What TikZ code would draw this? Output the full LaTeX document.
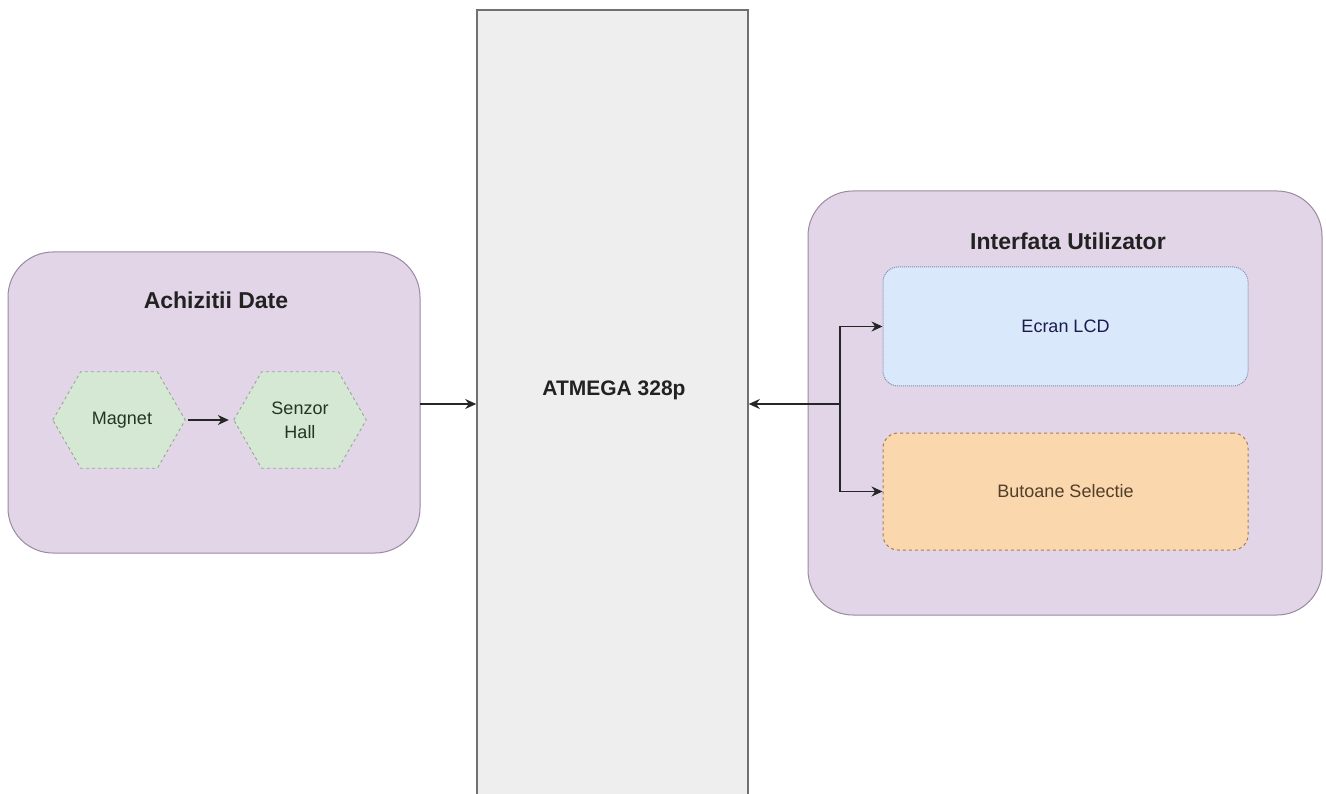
\documentclass[tikz,border=0pt]{standalone}
\usepackage{fontspec}
\setmainfont{Liberation Sans}
\usetikzlibrary{arrows.meta,calc}
\definecolor{grpfill}{HTML}{E2D5E7}
\definecolor{grpdraw}{HTML}{9A8AA0}
\definecolor{hexfill}{HTML}{D5E8D4}
\definecolor{hexdraw}{HTML}{98A896}
\definecolor{lcdfill}{HTML}{DAE8FC}
\definecolor{lcddraw}{HTML}{7F8EAD}
\definecolor{btnfill}{HTML}{FAD7AC}
\definecolor{btndraw}{HTML}{A97C52}
\definecolor{mcufill}{HTML}{EEEEEE}
\definecolor{mcudraw}{HTML}{707070}
\definecolor{txt}{HTML}{222222}
\tikzset{
  x=1pt,y=-1pt,
  grp/.style={draw=grpdraw,fill=grpfill,line width=1pt,rounded corners=45pt},
  grptitle/.style={font=\fontsize{23}{26}\selectfont\bfseries,text=txt},
  hexnode/.style={minimum width=132pt,minimum height=96pt,inner sep=0pt,align=center,
    font=\fontsize{18}{24}\selectfont,text=txt!90!green},
  hexline/.style={draw=hexdraw,fill=hexfill,dashed,line width=0.9pt},
  lcd/.style={draw=lcddraw,fill=lcdfill,densely dotted,line width=1pt,rounded corners=15pt,
    minimum width=365pt,minimum height=119pt,font=\fontsize{18}{22}\selectfont,text=txt!80!blue},
  btn/.style={draw=btndraw,fill=btnfill,dashed,line width=1pt,rounded corners=15pt,
    minimum width=365pt,minimum height=117pt,font=\fontsize{18}{22}\selectfont,text=txt!70!brown},
  mcu/.style={draw=mcudraw,fill=mcufill,line width=1.6pt,minimum width=271pt,minimum height=790pt,inner sep=0pt},
  conn/.style={draw=black!85,line width=1.2pt,-{Stealth[length=11pt,width=10pt]}},
}
\begin{document}
\begin{tikzpicture}
\clip (0,0) rectangle (1326,794);
\useasboundingbox (0,0) rectangle (1326,794);
\fill[white] (0,0) rectangle (1326,794);

% ATMEGA
\node[mcu] (atm) at (612.5,405) {};
\node[font=\fontsize{21}{24}\selectfont\bfseries,text=txt] (atmtext) at (614,390) {ATMEGA 328p};

% Left group
\draw[grp] (8,252) rectangle (420,553);
\node[grptitle] (lt) at (216,300) {Achizitii Date};
\node[hexnode] (mag) at (119,420) {};
\node[hexnode] (hall) at (300,420) {};
\foreach \h in {mag,hall}{
  \path[hexline] (\h.west) -- ($(\h.north west)!0.21!(\h.north east)$) -- ($(\h.north west)!0.79!(\h.north east)$)
    -- (\h.east) -- ($(\h.south west)!0.79!(\h.south east)$) -- ($(\h.south west)!0.21!(\h.south east)$) -- cycle;
}
\node[hexnode] at ([xshift=3pt]mag) {Magnet};
\node[hexnode] at (hall) {Senzor\\Hall};
\draw[conn] ([xshift=3pt]mag.east) -- ([xshift=-5pt]hall.west);

% Right group
\draw[grp] (808,191) rectangle (1322,615);
\node[grptitle] (rt) at (1068,241) {Interfata Utilizator};
\node[lcd] (lcd) at (1065.5,326.5) {Ecran LCD};
\node[btn] (btn) at (1065.5,491.5) {Butoane Selectie};

% Connectors
\coordinate (lgE) at (420,404);
\draw[conn] (lgE) -- (atm.west |- lgE);
\coordinate (jn) at (840,404);
\draw[conn] (jn) -- (atm.east |- jn);
\draw[conn] (jn) |- (lcd.west);
\draw[conn] (jn) |- (btn.west);
\end{tikzpicture}
\end{document}
